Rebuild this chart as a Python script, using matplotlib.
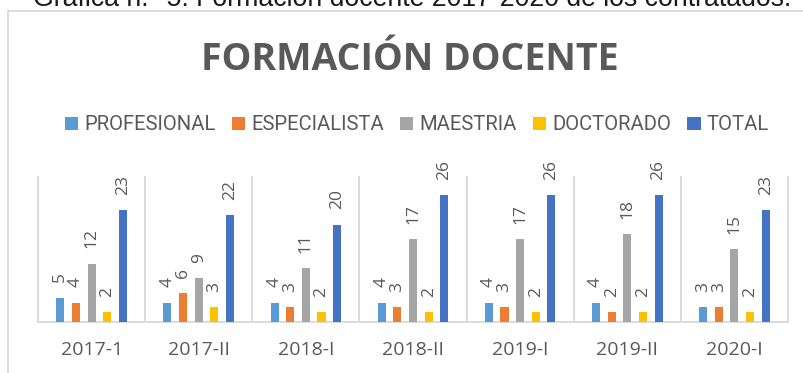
import numpy as np
import matplotlib
matplotlib.use('Agg')
import matplotlib.pyplot as plt
from matplotlib.patches import Rectangle, Patch

# semesters and number of hired teachers by education level
periodos = ['2017-1', '2017-II', '2018-I', '2018-II', '2019-I', '2019-II', '2020-I']
profesional = [5, 4, 4, 4, 4, 4, 3]
especialista = [4, 6, 3, 3, 3, 2, 3]
maestria = [12, 9, 11, 17, 17, 18, 15]
doctorado = [2, 3, 2, 2, 2, 2, 2]
total = [23, 22, 20, 26, 26, 26, 23]

series = [
    ('PROFESIONAL', profesional, '#5B9BD5'),
    ('ESPECIALISTA', especialista, '#ED7D31'),
    ('MAESTRIA', maestria, '#A5A5A5'),
    ('DOCTORADO', doctorado, '#FFC000'),
    ('TOTAL', total, '#4472C4'),
]

W, H = 804, 373
TXT = '#595959'
GRID = '#D9D9D9'
plt.rcParams['font.family'] = ['Open Sans', 'DejaVu Sans']

fig = plt.figure(figsize=(W / 100, H / 100), dpi=100)
ax = fig.add_axes([38 / W, 1 - 322 / H, 750 / W, 146 / H])

x = np.arange(len(periodos))
step = 0.146
width = 0.075
for i, (name, vals, color) in enumerate(series):
    pos = x + (i - 2) * step
    ax.bar(pos, vals, width=width, color=color, label=name, zorder=3)
    for px, v in zip(pos, vals):
        ax.annotate(str(v), (px, v), xytext=(0, 11), textcoords='offset points',
                    rotation=90, ha='center', va='bottom', fontsize=12.5, color=TXT)

ax.set_xlim(-0.5, len(periodos) - 0.5)
ax.set_ylim(0, 30)
ax.vlines(np.arange(len(periodos) + 1) - 0.5, 0, 30, color=GRID, lw=1.3,
          clip_on=False, zorder=1)
for side in ['top', 'right', 'left']:
    ax.spines[side].set_visible(False)
ax.spines['bottom'].set_color(GRID)
ax.spines['bottom'].set_linewidth(1.3)
ax.set_yticks([])
ax.set_xticks(x)
ax.set_xticklabels(periodos, fontsize=14, color=TXT)
ax.tick_params(axis='x', length=0, pad=14)

# chart frame
fig.patches.append(Rectangle((8 / W, -0.1), 1.2, 1 - 11 / H + 0.1,
                             transform=fig.transFigure, fill=False,
                             edgecolor=GRID, lw=1.3))

fig.text(410 / W, 1 - 70 / H, 'FORMACIÓN DOCENTE', ha='center', va='baseline',
         fontsize=27, fontweight='bold', color=TXT)

handles = [Patch(facecolor=c, label=n) for n, _, c in series]
fig.legend(handles=handles, loc='center', bbox_to_anchor=(417 / W, 1 - 125 / H),
           ncol=5, frameon=False, prop={'family': 'Roboto', 'size': 14.6},
           labelcolor=TXT, handlelength=0.65, handleheight=0.65,
           handletextpad=0.3, columnspacing=0.8, borderpad=0)

fig.text(33 / W, 1 - 6 / H, 'Gráfica n.° 5: Formación docente 2017-2020 de los contratados.',
         ha='left', va='baseline', fontsize=19.2, family='Liberation Sans', color='#1a1a1a')

fig.savefig('out.png', dpi=100)
